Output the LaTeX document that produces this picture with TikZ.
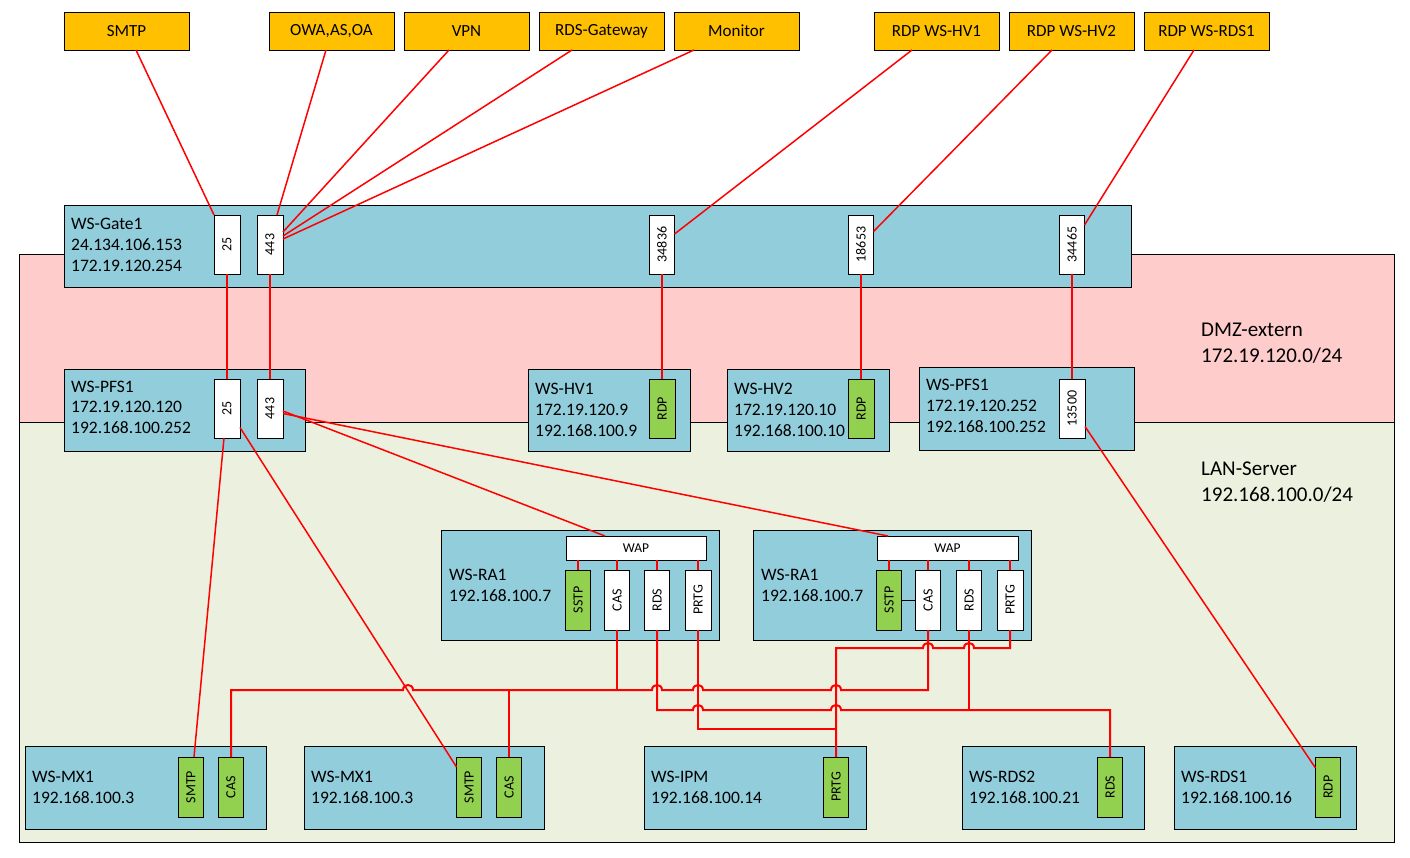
\documentclass[tikz,border=0pt]{standalone}
\usepackage{fontspec}
\setmainfont{Carlito}
\usepackage{graphicx}
\definecolor{hostblue}{HTML}{92CDDC}
\definecolor{extorange}{HTML}{FFC000}
\definecolor{dmzpink}{HTML}{FFCCCC}
\definecolor{langreen}{HTML}{EBF1DE}
\definecolor{portgreen}{HTML}{92D050}
% hop on a horizontal line going left / right
\newcommand\hopL[2]{-- ({#1+5},#2) .. controls ({#1+5},{#2-6.7}) and ({#1-5},{#2-6.7}) .. ({#1-5},#2)}
\newcommand\hopR[2]{-- ({#1-5},#2) .. controls ({#1-5},{#2-6.7}) and ({#1+5},{#2-6.7}) .. ({#1+5},#2)}
\tikzset{
 region/.style={draw=black, line width=0.8pt, inner sep=0pt, outer sep=0pt, anchor=north west},
 host/.style={draw=black, fill=hostblue, line width=0.8pt, inner sep=0pt, outer sep=0pt, anchor=north west},
 extbox/.style={draw=black, fill=extorange, line width=0.8pt, inner sep=0pt, outer sep=0pt, anchor=north west, minimum width=125pt, minimum height=38pt, font=\fontsize{17}{20}\selectfont},
 pbox/.style={draw=black, fill=white, line width=0.8pt, inner sep=0pt, outer sep=0pt, minimum width=25pt, minimum height=59pt, font=\fontsize{14}{16}\selectfont},
 gbox/.style={pbox, fill=portgreen},
 wapbox/.style={draw=black, fill=white, line width=0.8pt, inner sep=0pt, outer sep=0pt, minimum width=140pt, minimum height=24pt, font=\fontsize{13.5}{16}\selectfont},
 txt/.style={anchor=base west, inner sep=0pt, font=\fontsize{17.5}{21}\selectfont},
 rtxt/.style={anchor=base west, inner sep=0pt, font=\fontsize{21}{25}\selectfont},
 link/.style={draw=red, line width=1.5pt},
 net/.style={draw=red, line width=2pt, line join=miter},
}
\begin{document}
\begin{tikzpicture}[x=1pt,y=-1pt]
\useasboundingbox[fill=white] (0,0) rectangle (1410,858);

% regions
\node[region, fill=dmzpink, minimum width=1375pt, minimum height=168pt] (dmz) at (19,254) {};
\node[region, fill=langreen, minimum width=1375pt, minimum height=420pt] (lan) at (19,422) {};
\node[rtxt] (dmzl1) at (1201,337) {DMZ-extern};
\node[rtxt] (dmzl2) at (1201,362) {172.19.120.0/24};
\node[rtxt] (lanl1) at (1201,475) {LAN-Server};
\node[rtxt] (lanl2) at (1201,501) {192.168.100.0/24};

% external services
\node[extbox] (smtp) at (64,12) {SMTP};
\node[extbox] (owa) at (269,12) {OWA,AS,OA};
\node[extbox] (vpn) at (404,12) {VPN};
\node[extbox] (rdsgw) at (539,12) {RDS-Gateway};
\node[extbox] (mon) at (674,12) {Monitor};
\node[extbox] (rhv1) at (874,12) {RDP WS-HV1};
\node[extbox] (rhv2) at (1009,12) {RDP WS-HV2};
\node[extbox] (rrds1) at (1144,12) {RDP WS-RDS1};

% hosts
\node[host, minimum width=1067pt, minimum height=82pt] (gate) at (64,205) {};
\node[txt] (gatet1) at (71,230) {WS-Gate1};
\node[txt] (gatet2) at (71,251) {24.134.106.153};
\node[txt] (gatet3) at (71,272) {172.19.120.254};

\node[host, minimum width=241pt, minimum height=82pt] (pfs1) at (64,369) {};
\node[txt] (pfs1t1) at (71,392) {WS-PFS1};
\node[txt] (pfs1t2) at (71,412) {172.19.120.120};
\node[txt] (pfs1t3) at (71,433) {192.168.100.252};

\node[host, minimum width=162pt, minimum height=82pt] (hv1) at (528,369) {};
\node[txt] (hv1t1) at (535,394) {WS-HV1};
\node[txt] (hv1t2) at (535,415) {172.19.120.9};
\node[txt] (hv1t3) at (535,436) {192.168.100.9};

\node[host, minimum width=162pt, minimum height=82pt] (hv2) at (727,369) {};
\node[txt] (hv2t1) at (734,394) {WS-HV2};
\node[txt] (hv2t2) at (734,415) {172.19.120.10};
\node[txt] (hv2t3) at (734,436) {192.168.100.10};

\node[host, minimum width=215pt, minimum height=83pt] (pfs2) at (919,367) {};
\node[txt] (pfs2t1) at (926,390) {WS-PFS1};
\node[txt] (pfs2t2) at (926,411) {172.19.120.252};
\node[txt] (pfs2t3) at (926,432) {192.168.100.252};

\node[host, minimum width=278pt, minimum height=110pt] (ra1) at (441,530) {};
\node[txt] (ra1t1) at (449,580) {WS-RA1};
\node[txt] (ra1t2) at (449,601) {192.168.100.7};

\node[host, minimum width=278pt, minimum height=110pt] (ra2) at (753,530) {};
\node[txt] (ra2t1) at (761,580) {WS-RA1};
\node[txt] (ra2t2) at (761,601) {192.168.100.7};

\node[host, minimum width=241pt, minimum height=83pt] (mx1) at (25,746) {};
\node[txt] (mx1t1) at (32,782) {WS-MX1};
\node[txt] (mx1t2) at (32,803) {192.168.100.3};

\node[host, minimum width=240pt, minimum height=83pt] (mx2) at (304,746) {};
\node[txt] (mx2t1) at (311,782) {WS-MX1};
\node[txt] (mx2t2) at (311,803) {192.168.100.3};

\node[host, minimum width=222pt, minimum height=83pt] (ipm) at (644,746) {};
\node[txt] (ipmt1) at (651,782) {WS-IPM};
\node[txt] (ipmt2) at (651,803) {192.168.100.14};

\node[host, minimum width=182pt, minimum height=83pt] (rds2) at (962,746) {};
\node[txt] (rds2t1) at (969,782) {WS-RDS2};
\node[txt] (rds2t2) at (969,803) {192.168.100.21};

\node[host, minimum width=182pt, minimum height=83pt] (rds1) at (1174,746) {};
\node[txt] (rds1t1) at (1181,782) {WS-RDS1};
\node[txt] (rds1t2) at (1181,803) {192.168.100.16};

% ports on WS-Gate1
\node[pbox, minimum width=26pt] (g25) at (227,244.5) {\rotatebox{90}{25}};
\node[pbox, minimum width=26pt] (g443) at (270,244.5) {\rotatebox{90}{443}};
\node[pbox] (g34836) at (662,244.5) {\rotatebox{90}{34836}};
\node[pbox] (g18653) at (861,244.5) {\rotatebox{90}{18653}};
\node[pbox] (g34465) at (1072,244.5) {\rotatebox{90}{34465}};

% ports on DMZ hosts
\node[pbox, minimum width=26pt] (p25) at (227,408.5) {\rotatebox{90}{25}};
\node[pbox, minimum width=26pt] (p443) at (270,408.5) {\rotatebox{90}{443}};
\node[gbox, minimum width=26pt] (hv1rdp) at (662,408.5) {\rotatebox{90}{RDP}};
\node[gbox, minimum width=26pt] (hv2rdp) at (861,408.5) {\rotatebox{90}{RDP}};
\node[pbox, minimum width=26pt] (p13500) at (1072,408.5) {\rotatebox{90}{13500}};

% WS-RA1 (left)
\node[wapbox] (lwap) at (636,548) {WAP};
\node[gbox, minimum height=60pt] (lsstp) at (578,600) {\rotatebox{90}{SSTP}};
\node[pbox, minimum height=60pt] (lcas) at (617,600) {\rotatebox{90}{CAS}};
\node[pbox, minimum height=60pt] (lrds) at (657,600) {\rotatebox{90}{RDS}};
\node[pbox, minimum height=60pt, minimum width=26pt] (lprtg) at (698,600) {\rotatebox{90}{PRTG}};

% WS-RA1 (right)
\node[wapbox, minimum width=141pt] (rwap) at (947.5,548) {WAP};
\node[gbox, minimum height=60pt] (rsstp) at (889,600) {\rotatebox{90}{SSTP}};
\node[pbox, minimum height=60pt] (rcas) at (928,600) {\rotatebox{90}{CAS}};
\node[pbox, minimum height=60pt] (rrds) at (969,600) {\rotatebox{90}{RDS}};
\node[pbox, minimum height=60pt, minimum width=26pt] (rprtg) at (1010,600) {\rotatebox{90}{PRTG}};

% bottom ports
\node[gbox, minimum height=60pt] (msmtp1) at (191,787) {\rotatebox{90}{SMTP}};
\node[gbox, minimum height=60pt] (mcas1) at (231,787) {\rotatebox{90}{CAS}};
\node[gbox, minimum height=60pt] (msmtp2) at (469,787) {\rotatebox{90}{SMTP}};
\node[gbox, minimum height=60pt] (mcas2) at (509,787) {\rotatebox{90}{CAS}};
\node[gbox, minimum height=60pt] (iprtg) at (836,787) {\rotatebox{90}{PRTG}};
\node[gbox, minimum height=60pt] (rds2rds) at (1110,787) {\rotatebox{90}{RDS}};
\node[gbox, minimum height=60pt] (rds1rdp) at (1328,787) {\rotatebox{90}{RDP}};

% internet -> WS-Gate1
\draw[link] ([xshift=9.5pt]smtp.south) -- (g25.north west);
\draw[link] ([xshift=-5.5pt]owa.south) -- ([xshift=7pt]g443.north);
\draw[link] ([xshift=-17.5pt]vpn.south) -- ([yshift=12.5pt]g443.east);
\draw[link] ([xshift=-29.5pt]rdsgw.south) -- ([yshift=8.5pt]g443.east);
\draw[link] ([xshift=-42.5pt]mon.south) -- ([yshift=5.5pt]g443.east);
\draw[link] ([xshift=-24.5pt]rhv1.south) -- ([yshift=10.5pt]g34836.east);
\draw[link] ([xshift=-19.5pt]rhv2.south) -- ([yshift=13pt]g18653.east);
\draw[link] ([xshift=-12.5pt]rrds1.south) -- ([yshift=19.5pt]g34465.east);

% WS-Gate1 -> DMZ
\draw[net] (g25.south) -- (p25.north);
\draw[net] (g443.south) -- (p443.north);
\draw[net] (g34836.south) -- (hv1rdp.north);
\draw[net] (g18653.south) -- (hv2rdp.north);
\draw[net] (g34465.south) -- (p13500.north);

% DMZ -> LAN
\draw[link] ([xshift=-3pt]p25.south) -- ([xshift=3pt]msmtp1.north);
\draw[link] ([yshift=-19pt]p25.east) -- ([yshift=20pt]msmtp2.west);
\draw[link] ([yshift=-2.5pt]p443.east) -- ([xshift=-31pt]lwap.north);
\draw[link] ([yshift=-5pt]p443.east) -- ([xshift=-59.5pt]rwap.north);
\draw[link] ([yshift=-18pt]p13500.east) -- ([yshift=19pt]rds1rdp.west);

% WAP -> services
\foreach \p/\w in {lsstp/lwap,lcas/lwap,lrds/lwap,lprtg/lwap,rsstp/rwap,rcas/rwap,rrds/rwap,rprtg/rwap}
  \draw[net] (\w.south -| \p.north) -- (\p.north);
\draw[black, line width=1pt] (rsstp.east) -- (rcas.west);

% LAN wiring
\draw[net] (rcas.south) -- (928,690) \hopL{836}{690} \hopL{698}{690} \hopL{657}{690} \hopL{408}{690} -- (231,690) -- (mcas1.north);
\draw[net] (lcas.south) -- (617,690);
\draw[net] (mcas2.north) -- (509,690);
\draw[net] (lrds.south) -- (657,710) \hopR{698}{710} \hopR{836}{710} -- (1110,710) -- (rds2rds.north);
\draw[net] (rrds.south) -- (969,710);
\draw[net] (lprtg.south) -- (698,729) -- (836,729);
\draw[net] (rprtg.south) -- (1010,648) \hopL{969}{648} \hopL{928}{648} -- (836,648) -- (iprtg.north);
\end{tikzpicture}
\end{document}
